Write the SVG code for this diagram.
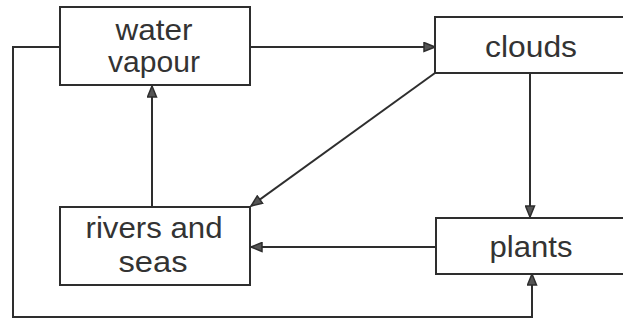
<svg xmlns="http://www.w3.org/2000/svg" width="623" height="322" viewBox="0 0 623 322">
  <style>
    .box { fill: #fff; stroke: #2e2e2e; stroke-width: 2; }
    .lbl { font-family: "Liberation Sans", Arial, sans-serif; font-size: 29px; fill: #333; text-anchor: middle; }
    .edge { fill: none; stroke: #2e2e2e; stroke-width: 2; }
    .arrow { marker-end: url(#head); }
  </style>
  <defs>
    <marker id="head" markerUnits="userSpaceOnUse" markerWidth="13" markerHeight="11" refX="12" refY="5.5" orient="auto">
      <path d="M1,1 L12,5.5 L1,10 Z" fill="#555" stroke="#2e2e2e" stroke-width="1.5" stroke-linejoin="miter"/>
    </marker>
  </defs>
  <rect width="623" height="322" fill="#fff"/>

  <g id="connectors">
    <path class="edge arrow" d="M250,47 H435"/>
    <path class="edge arrow" d="M435,73 L251,206"/>
    <path class="edge arrow" d="M530,73 V217"/>
    <path class="edge arrow" d="M436,247 H251"/>
    <path class="edge arrow" d="M152,207 V86"/>
    <path class="edge arrow" d="M60,47 H13 V317 H532 V274"/>
  </g>

  <g id="water-vapour">
    <rect class="box" x="60" y="7" width="190" height="78"/>
    <text class="lbl" x="154" y="40" textLength="77" lengthAdjust="spacingAndGlyphs">water</text>
    <text class="lbl" x="154" y="72" textLength="92" lengthAdjust="spacingAndGlyphs">vapour</text>
  </g>

  <g id="clouds">
    <rect class="box" x="435" y="17" width="200" height="56"/>
    <text class="lbl" x="531" y="57" textLength="92" lengthAdjust="spacingAndGlyphs">clouds</text>
  </g>

  <g id="rivers-and-seas">
    <rect class="box" x="60" y="207" width="190" height="78"/>
    <text class="lbl" x="154" y="238" textLength="137" lengthAdjust="spacingAndGlyphs">rivers and</text>
    <text class="lbl" x="153" y="272" textLength="69" lengthAdjust="spacingAndGlyphs">seas</text>
  </g>

  <g id="plants">
    <rect class="box" x="436" y="218" width="200" height="56"/>
    <text class="lbl" x="531" y="257" textLength="83" lengthAdjust="spacingAndGlyphs">plants</text>
  </g>
</svg>
